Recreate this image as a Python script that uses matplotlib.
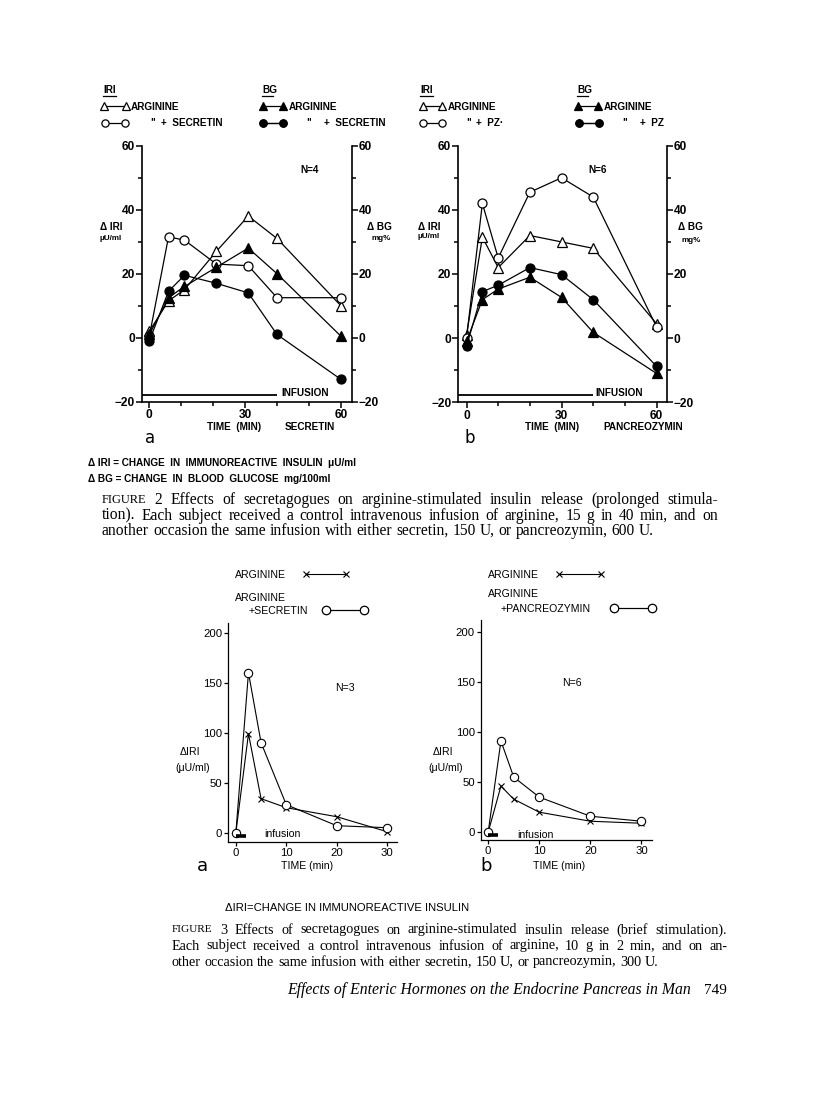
import matplotlib
matplotlib.use('Agg')
import matplotlib.pyplot as plt
from matplotlib.lines import Line2D

# ---- data ----
# Figure 2a: arginine vs arginine + secretin (prolonged)
t_2a = [0, 6, 11, 21, 31, 40, 60]
iri_arg_2a = [2, 11.5, 15, 27, 38, 31, 10]
iri_sec_2a = [0.5, 31.5, 30.5, 23, 22.5, 12.5, 12.5]
bg_arg_2a = [1, 12.5, 16, 22, 28, 20, 0.5]
bg_sec_2a = [-1, 14.5, 19.5, 17, 14, 1, -13]

# Figure 2b: arginine vs arginine + pancreozymin (prolonged)
t_2b = [0, 5, 10, 20, 30, 40, 60]
iri_arg_2b = [1, 31.5, 22, 32, 30, 28, 4.5]
iri_pz_2b = [0, 42, 25, 45.5, 50, 44, 3.5]
bg_arg_2b = [-1, 12, 15.3, 19, 12.7, 1.8, -11]
bg_pz_2b = [-2.5, 14.5, 16.5, 22, 19.8, 12, -8.8]

# Figure 3: brief stimulation, delta IRI
t_3 = [0, 2.5, 5, 10, 20, 30]
arg_3a = [0, 99, 34, 25, 16, 1]
sec_3a = [0, 160, 90, 28, 7, 5]
arg_3b = [0, 46, 33, 20, 11, 9]
pz_3b = [0, 91, 55, 35, 16, 11]

infusion_2 = 40      # min, prolonged infusion
infusion_3 = [0, 2]  # min, brief infusion

caption_2 = [
    "FIGURE 2  Effects of secretagogues on arginine-stimulated insulin release (prolonged stimula-",
    "tion). Each subject received a control intravenous infusion of arginine, 15 g in 40 min, and on",
    "another occasion the same infusion with either secretin, 150 U, or pancreozymin, 600 U.",
]
caption_3 = [
    "FIGURE 3  Effects of secretagogues on arginine-stimulated insulin release (brief stimulation).",
    "Each subject received a control intravenous infusion of arginine, 10 g in 2 min, and on an-",
    "other occasion the same infusion with either secretin, 150 U, or pancreozymin, 300 U.",
]

W, H = 816, 1100
fig = plt.figure(figsize=(W / 100, H / 100), dpi=100)
fig.patch.set_facecolor('white')


def fx(x):
    return x / W


def fy(y):
    return 1 - y / H


def rect(l, t, r, b):
    return [fx(l), fy(b), (r - l) / W, (b - t) / H]


def put(x, y, s, **kw):
    kw.setdefault('va', 'center')
    kw.setdefault('ha', 'left')
    return fig.text(fx(x), fy(y), s, **kw)


BOLD = dict(family='Liberation Sans', fontweight='bold', fontsize=7.2)
SMALL = dict(family='Liberation Sans', fontweight='bold', fontsize=5.8)
PLAIN = dict(family='Liberation Sans', fontsize=7.6)
SERIF = 'Liberation Serif'


def key(ax, handle, x0, x1, y, fs=7.2, scale=1.0):
    # one legend per key so every sample sits where the page has it
    fs_px = fs * 100 / 72
    leg = ax.legend([handle], [''], loc='center', numpoints=2, frameon=False,
                    bbox_to_anchor=(fx((x0 + x1) / 2), fy(y)),
                    bbox_transform=fig.transFigure, fontsize=fs,
                    handlelength=(x1 - x0) / fs_px + 0.6, handletextpad=0,
                    borderpad=0, borderaxespad=0, markerscale=scale)
    ax.add_artist(leg)


def underline(x0, x1, y):
    fig.add_artist(Line2D([fx(x0), fx(x1)], [fy(y), fy(y)], color='k', lw=0.9,
                          transform=fig.transFigure))


def panel2(box, t, iri_arg, iri_mix, bg_arg, bg_mix, xlim):
    ax = fig.add_axes(rect(*box))
    kw = dict(color='k', lw=0.9, ms=6.5, mew=0.9, mec='k', zorder=3)
    h1, = ax.plot(t, iri_arg, marker='^', mfc='white', **kw)
    h2, = ax.plot(t, iri_mix, marker='o', mfc='white', **kw)
    h3, = ax.plot(t, bg_arg, marker='^', mfc='k', **kw)
    h4, = ax.plot(t, bg_mix, marker='o', mfc='k', **kw)
    ax.hlines(-17.8, xlim[0], infusion_2, color='k', lw=1.3)
    ax.set_xlim(xlim)
    ax.set_ylim(-20, 60)
    ax.spines['top'].set_visible(False)
    for s in ('left', 'right', 'bottom'):
        ax.spines[s].set_linewidth(1.2)
    ax.set_yticks([-20, 0, 20, 40, 60])
    ax.set_yticks([-10, 10, 30, 50], minor=True)
    ax.set_xticks([0, 30, 60])
    ax.set_xticks([10, 20, 40, 50], minor=True)
    ax.tick_params(which='both', direction='out', right=True, labelright=True,
                   width=1.1, length=4, pad=1, labelsize=8.6)
    ax.tick_params(which='minor', length=3)
    ax.tick_params(axis='x', pad=1.5)
    for lab in ax.get_xticklabels() + ax.get_yticklabels():
        lab.set_fontweight('bold')
        lab.set_family('Liberation Sans')
    ax.patch.set_alpha(0)
    return ax, (h1, h2, h3, h4)


def panel3(box, t, arg, mix, xlim, ylim):
    ax = fig.add_axes(rect(*box))
    h1, = ax.plot(t, arg, color='k', lw=0.8, marker='x', ms=5, mew=0.8)
    h2, = ax.plot(t, mix, color='k', lw=0.8, marker='o', ms=6, mfc='white',
                  mec='k', mew=0.8)
    ax.hlines(-3, infusion_3[0], infusion_3[1], color='k', lw=2.6)
    ax.set_xlim(xlim)
    ax.set_ylim(ylim)
    for s in ('top', 'right'):
        ax.spines[s].set_visible(False)
    for s in ('left', 'bottom'):
        ax.spines[s].set_linewidth(0.9)
    ax.set_yticks([0, 50, 100, 150, 200])
    ax.set_xticks([0, 10, 20, 30])
    ax.tick_params(direction='out', width=0.9, length=3, pad=1.5, labelsize=8.2)
    for lab in ax.get_xticklabels() + ax.get_yticklabels():
        lab.set_family('Liberation Sans')
    ax.patch.set_alpha(0)
    return ax, (h1, h2)


# ---------- Figure 2 ----------
ax2a, hs = panel2((141.7, 145.7, 352, 401.7), t_2a, iri_arg_2a, iri_sec_2a,
                  bg_arg_2a, bg_sec_2a, (-2.4, 63.5))
put(103, 90, 'IRI', **BOLD); underline(103, 116, 96)
key(ax2a, hs[0], 104, 126, 106.7, scale=0.8); put(131, 106.7, 'ARGININE', **BOLD)
key(ax2a, hs[1], 105, 125, 123.3, scale=0.8); put(150, 122, '"', **BOLD)
put(161, 123.3, '+  SECRETIN', **BOLD)
put(262, 90, 'BG', **BOLD); underline(262, 273, 96)
key(ax2a, hs[2], 263, 283, 106.7, scale=0.8); put(289, 106.7, 'ARGININE', **BOLD)
key(ax2a, hs[3], 263, 283, 123.3, scale=0.8); put(306, 122, '"', **BOLD)
put(324, 123.3, '+  SECRETIN', **BOLD)
put(300, 170, 'N=4', **BOLD)
put(100, 227, 'Δ IRI', **BOLD)
put(100, 238, 'μU/ml', **SMALL)
put(367, 227, 'Δ BG', **BOLD)
put(372, 239, 'mg%', **SMALL)
put(281, 393, 'INFUSION', **BOLD)
put(207, 427, 'TIME  (MIN)', **BOLD)
put(285, 427, 'SECRETIN', **BOLD)
put(145, 438, 'a', family='DejaVu Sans', fontsize=12)

ax2b, hs = panel2((458.3, 145.7, 666.7, 402.3), t_2b, iri_arg_2b, iri_pz_2b,
                  bg_arg_2b, bg_pz_2b, (-2.6, 63.2))
put(420, 90, 'IRI', **BOLD); underline(420, 433, 96)
key(ax2b, hs[0], 423, 442, 106.7, scale=0.8); put(448, 106.7, 'ARGININE', **BOLD)
key(ax2b, hs[1], 423, 442, 123.3, scale=0.8); put(466, 122, '"', **BOLD)
put(476, 123.3, '+  PZ·', **BOLD)
put(577, 90, 'BG', **BOLD); underline(577, 588, 96)
key(ax2b, hs[2], 578, 598, 106.7, scale=0.8); put(604, 106.7, 'ARGININE', **BOLD)
key(ax2b, hs[3], 579, 599, 123.3, scale=0.8); put(622, 122, '"', **BOLD)
put(640, 123.3, '+  PZ', **BOLD)
put(588, 170, 'N=6', **BOLD)
put(418, 227, 'Δ IRI', **BOLD)
put(418, 237, 'μU/ml', **SMALL)
put(678, 227, 'Δ BG', **BOLD)
put(681, 240, 'mg%', **SMALL)
put(595, 393, 'INFUSION', **BOLD)
put(525, 427, 'TIME  (MIN)', **BOLD)
put(603, 427, 'PANCREOZYMIN', **BOLD)
put(465, 438, 'b', family='DejaVu Sans', fontsize=12)

put(88, 463, 'Δ IRI = CHANGE  IN  IMMUNOREACTIVE  INSULIN  μU/ml', **BOLD)
put(88, 479, 'Δ BG = CHANGE  IN  BLOOD  GLUCOSE  mg/100ml', **BOLD)

# ---------- Figure 3 ----------
ax3a, hs = panel3((228.3, 623.3, 396.7, 841.7), t_3, arg_3a, sec_3a,
                  (-1.5, 31.9), (-9, 209.4))
put(235, 575, 'ARGININE', **PLAIN)
key(ax3a, hs[0], 306, 346, 575, fs=7.5)
put(235, 598, 'ARGININE', **PLAIN)
put(249, 611, '+SECRETIN', **PLAIN)
key(ax3a, hs[1], 326, 364, 611, fs=7.5)
put(335, 688, 'N=3', **PLAIN)
put(180, 752, 'ΔIRI', **PLAIN)
put(175, 768, '(μU/ml)', **PLAIN)
put(264, 834, 'infusion', **PLAIN)
put(307, 866, 'TIME (min)', ha='center', **PLAIN)
put(197, 866, 'a', family='DejaVu Sans', fontsize=13)

ax3b, hs = panel3((481, 620, 651.7, 840), t_3, arg_3b, pz_3b,
                  (-1.4, 32), (-7.7, 211.5))
put(488, 575, 'ARGININE', **PLAIN)
key(ax3b, hs[0], 559, 601, 575, fs=7.5)
put(488, 594, 'ARGININE', **PLAIN)
put(501, 609, '+PANCREOZYMIN', **PLAIN)
key(ax3b, hs[1], 614, 652, 609, fs=7.5)
put(562, 683, 'N=6', **PLAIN)
put(433, 752, 'ΔIRI', **PLAIN)
put(428, 768, '(μU/ml)', **PLAIN)
put(517, 835, 'infusion', **PLAIN)
put(559, 866, 'TIME (min)', ha='center', **PLAIN)
put(480, 866, 'b', family='DejaVu Sans', fontsize=13)

put(225, 908, 'ΔIRI=CHANGE IN IMMUNOREACTIVE INSULIN',
    family='Liberation Sans', fontsize=8.1)

# ---------- captions ----------
renderer = fig.canvas.get_renderer()


def width(t):
    return t.get_window_extent(renderer).width


def caption(lines, x0, x1, y0, dy, fill=0.96):
    # size from the first line, then spread all but the last line to the measure
    probe = put(0, 0, lines[0], family=SERIF, fontsize=10)
    size = 10 * (x1 - x0) / width(probe) * fill
    probe.remove()
    for i, line in enumerate(lines):
        y = y0 + i * dy
        words = line.split()
        texts = []
        for w in words:
            fs = size * 0.8 if w == 'FIGURE' else size
            texts.append(put(x0, y, w, family=SERIF, fontsize=fs))
        ws = [width(t) for t in texts]
        if i < len(lines) - 1:
            gap = (x1 - x0 - sum(ws)) / (len(words) - 1)
        else:
            a = put(0, 0, 'a a', family=SERIF, fontsize=size)
            b = put(0, 0, 'aa', family=SERIF, fontsize=size)
            gap = width(a) - width(b)
            a.remove()
            b.remove()
        x = x0
        for t, w in zip(texts, ws):
            t.set_x(fx(x))
            x += w + gap


caption(caption_2, 102, 718, 500, 15.5)
caption(caption_3, 172, 727, 930, 16)

foot = put(287, 990, 'Effects of Enteric Hormones on the Endocrine Pancreas in Man',
           family=SERIF, style='italic', fontsize=11)
foot.set_fontsize(11 * 403 / width(foot))
put(727, 990, '749', ha='right', family=SERIF, fontsize=11)

fig.savefig('out.png', dpi=100, facecolor='white')
